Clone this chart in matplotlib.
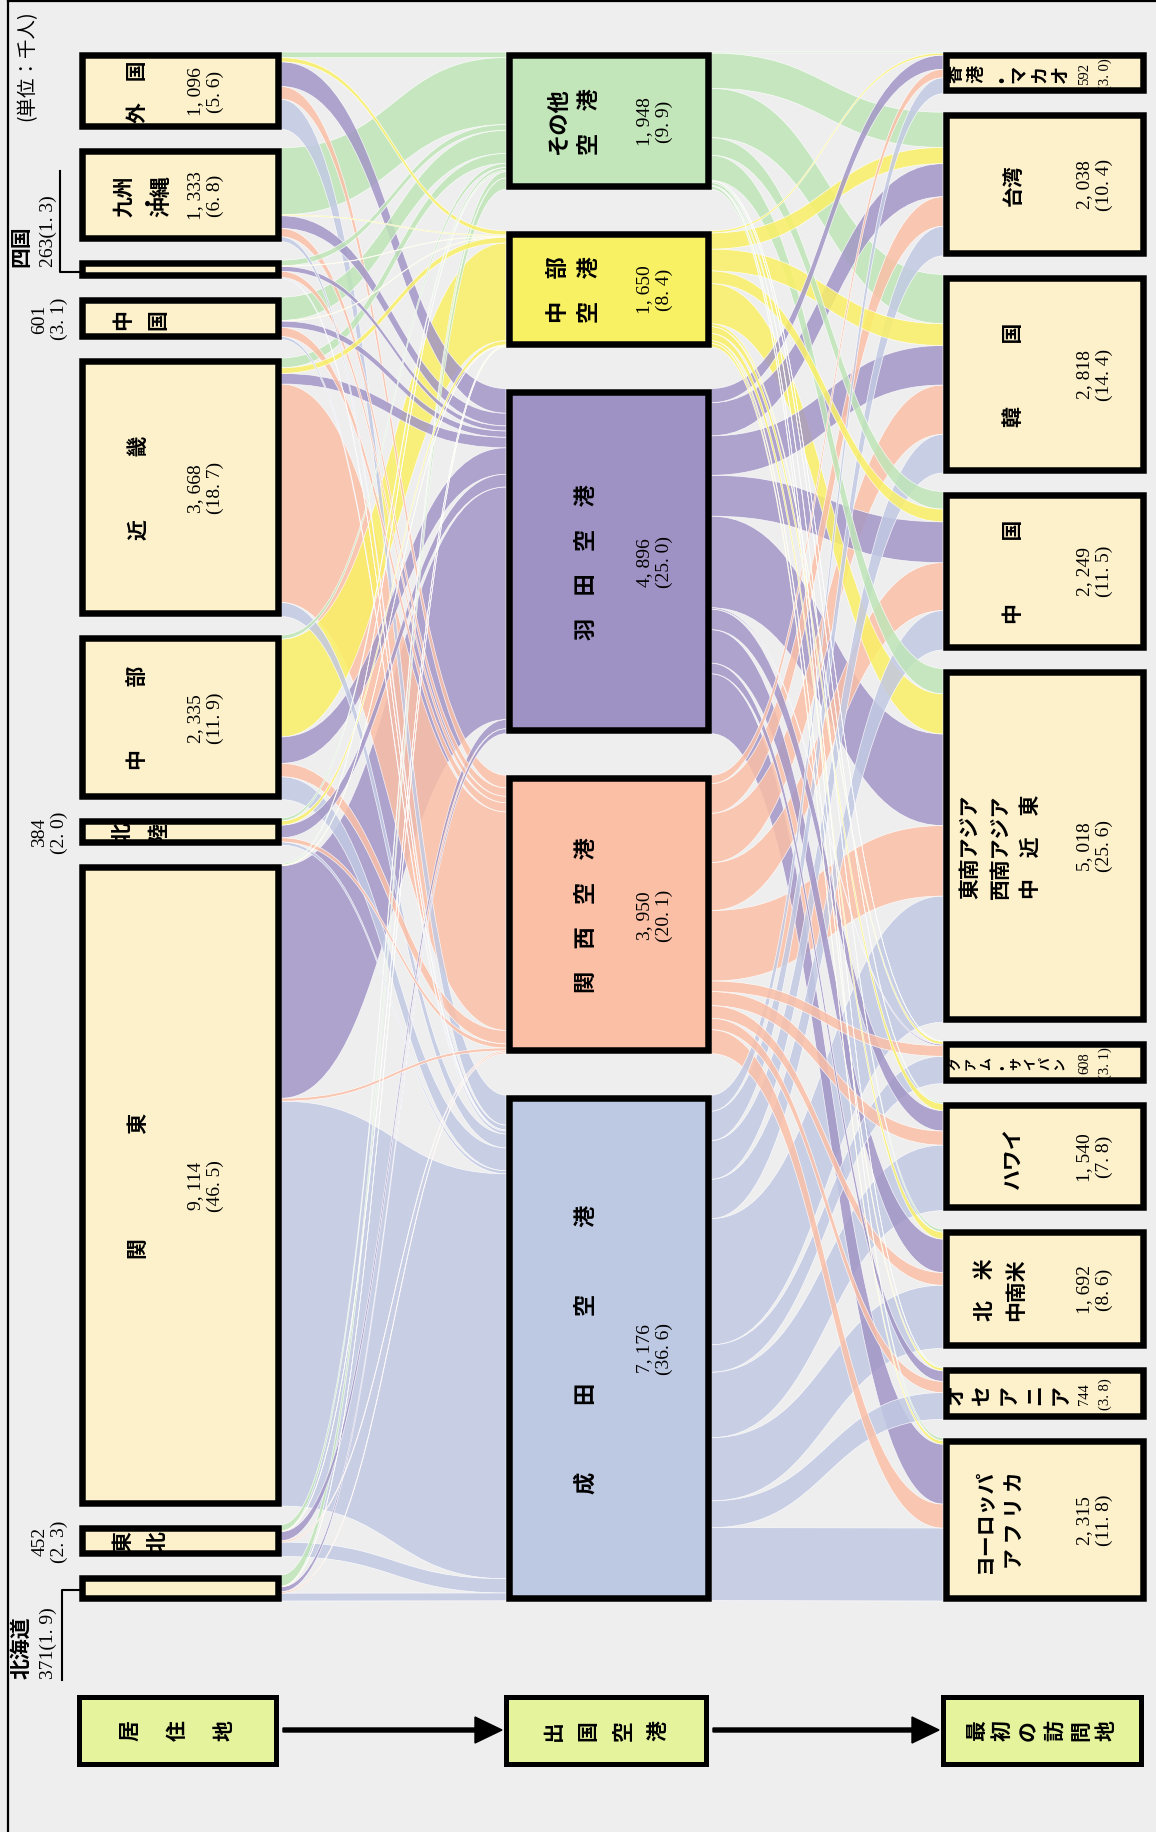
import matplotlib.pyplot as plt
from matplotlib.patches import Rectangle, PathPatch, FancyArrow
from matplotlib.path import Path

plt.rcParams['font.family'] = ['Noto Sans CJK JP', 'DejaVu Sans']
NUM_FONT = ['Liberation Serif', 'Noto Sans CJK JP']

W, H = 1156, 1833

# ---------------- data (thousand persons) ----------------
residence = ['外国', '九州・沖縄', '四国', '中国', '近畿', '中部', '北陸', '関東', '東北', '北海道']
residence_total = [1096, 1333, 263, 601, 3668, 2335, 384, 9114, 452, 371]
residence_share = [5.6, 6.8, 1.3, 3.1, 18.7, 11.9, 2.0, 46.5, 2.3, 1.9]

airport = ['その他空港', '中部空港', '羽田空港', '関西空港', '成田空港']
airport_total = [1948, 1650, 4896, 3950, 7176]
airport_share = [9.9, 8.4, 25.0, 20.1, 36.6]

destination = ['香港・マカオ', '台湾', '韓国', '中国', '東南アジア・西南アジア・中近東',
               'グアム・サイパン', 'ハワイ', '北米・中南米', 'オセアニア', 'ヨーロッパ・アフリカ']
destination_total = [592, 2038, 2818, 2249, 5018, 608, 1540, 1692, 744, 2315]
destination_share = [3.0, 10.4, 14.4, 11.5, 25.6, 3.1, 7.8, 8.6, 3.8, 11.8]

# residence -> departure airport (columns in airport order)
res_to_air = [
    [80, 60, 350, 180, 426],
    [950, 15, 180, 120, 68],
    [80, 8, 70, 90, 15],
    [330, 10, 90, 130, 41],
    [140, 80, 150, 3100, 198],
    [58, 1387, 376, 190, 324],
    [40, 60, 180, 60, 44],
    [20, 10, 3300, 40, 5744],
    [90, 10, 130, 20, 202],
    [160, 10, 70, 20, 111],
]

# departure airport -> first destination (columns in destination order)
air_to_dest = [
    [15, 500, 700, 250, 358, 10, 20, 40, 15, 40],
    [30, 230, 310, 180, 570, 40, 100, 100, 40, 50],
    [200, 470, 560, 580, 1300, 20, 290, 476, 150, 850],
    [120, 420, 700, 680, 1000, 150, 200, 180, 160, 340],
    [227, 418, 548, 559, 1790, 388, 930, 896, 379, 1035],
]

# ---------------- style / layout ----------------
BG = '#eeeeee'
CREAM = '#fdf1cb'
AIR_COLORS = ['#c2e5b9', '#f9f164', '#9e91c3', '#fbbfa6', '#bdc8e2']
FLOW_COLORS = ['#bfe5b8', '#faf066', '#a396c6', '#fabfa7', '#c2c9e3']
TOP, BOTTOM = 53, 1602
K = 0.0705  # px per thousand
COLS = {'res': (79, 281), 'air': (506, 711), 'dest': (943, 1146)}
BORDER = 6.5
LAB_FS = 15
NUM_FS = 14

res_labels = ['外　国', '九州\n・\n沖縄', '', '|中国', '近　　　畿', '中　　　部', '|北陸',
              '関　　　　　東', '|東北', '']
air_labels = ['その他\n空　港', '中　部\n空　港', '羽　田　空　港', '関　西　空　港',
              '成　　　田　　　空　　　港']
dest_labels = ['|香港・マカオ', '台湾', '韓　　　国', '中　　　国',
               '東南アジア\n西南アジア\n中　近　東', '|グアム・サイパン', 'ハワイ',
               '北　米\n中南米', '|オセアニア', 'ヨーロッパ\nア フ リ カ']


def stack(totals):
    h = [v * K for v in totals]
    gap = (BOTTOM - TOP - sum(h)) / (len(totals) - 1)
    out, y = [], TOP
    for hh in h:
        out.append((y, y + hh))
        y += hh + gap
    return out


def num_text(v, s, sep='\n'):
    return f"{v:,}".replace(',', ', ') + sep + '(' + f"{s:.1f}".replace('.', '. ') + ')'


def band(ax, x0, x1, a0, b0, a1, b1, color):
    xm = (x0 + x1) / 2
    verts = [(x0, a0), (xm, a0), (xm, a1), (x1, a1), (x1, b1),
             (xm, b1), (xm, b0), (x0, b0), (x0, a0)]
    codes = [Path.MOVETO, Path.CURVE4, Path.CURVE4, Path.CURVE4, Path.LINETO,
             Path.CURVE4, Path.CURVE4, Path.CURVE4, Path.CLOSEPOLY]
    ax.add_patch(PathPatch(Path(verts, codes), facecolor=color, alpha=0.85,
                           edgecolor=(1, 1, 1, 0.55), lw=0.5, zorder=2))


def flows(ax, matrix, src_pos, dst_pos, xs, xd, color_of):
    src_cur = [p[0] for p in src_pos]
    dst_cur = [p[0] for p in dst_pos]
    items = []
    for i, row in enumerate(matrix):
        for j, v in enumerate(row):
            h = v * K
            items.append((v, src_cur[i], src_cur[i] + h, dst_cur[j], dst_cur[j] + h, color_of(i, j)))
            src_cur[i] += h
            dst_cur[j] += h
    for v, a0, b0, a1, b1, c in sorted(items, key=lambda t: -t[0]):
        band(ax, xs, xd, a0, b0, a1, b1, c)


def box(ax, x0, x1, y0, y1, fill, lw=BORDER):
    ax.add_patch(Rectangle((x0 + lw / 2, y0 + lw / 2), x1 - x0 - lw, y1 - y0 - lw,
                           facecolor=fill, edgecolor='black', lw=lw * 0.72, zorder=5))


def tate(ax, x, y, s, step, size, bold=True):
    n = len(s)
    for i, ch in enumerate(s):
        ax.text(x + (i - (n - 1) / 2) * step, y, ch, rotation=90, ha='center', va='center',
                fontsize=size, fontweight='bold' if bold else 'normal', zorder=6)


fig = plt.figure(figsize=(W / 100, H / 100), dpi=100, facecolor=BG)
ax = fig.add_axes([0, 0, 1, 1])
ax.set_xlim(0, W)
ax.set_ylim(H, 0)
ax.axis('off')
ax.set_facecolor(BG)

res_pos = stack(residence_total)
air_pos = stack(airport_total)
dest_pos = stack(destination_total)

flows(ax, res_to_air, res_pos, air_pos, COLS['res'][1], COLS['air'][0],
      lambda i, j: FLOW_COLORS[j])
flows(ax, air_to_dest, air_pos, dest_pos, COLS['air'][1], COLS['dest'][0],
      lambda i, j: FLOW_COLORS[i])

# residence column
x0, x1 = COLS['res']
for i, (y0, y1) in enumerate(res_pos):
    box(ax, x0, x1, y0, y1, CREAM)
    yc = (y0 + y1) / 2
    lab = res_labels[i]
    if lab.startswith('|'):
        tate(ax, 140, yc, lab[1:], 35, LAB_FS)
        ax.text(50, yc, num_text(residence_total[i], residence_share[i]), rotation=90,
                ha='center', va='center', fontsize=NUM_FS, family=NUM_FONT, linespacing=1.2)
    elif lab:
        multi = '\n' in lab
        ax.text(142 if multi else 138, yc, lab, rotation=90, ha='center', va='center',
                fontsize=LAB_FS, fontweight='bold', linespacing=0.85 if multi else 1.2, zorder=6)
        ax.text(206, yc, num_text(residence_total[i], residence_share[i]), rotation=90,
                ha='center', va='center', fontsize=NUM_FS, family=NUM_FONT, linespacing=1.2, zorder=6)

# leader labels for 四国 and 北海道
for name, up in (('四国', True), ('北海道', False)):
    i = residence.index(name)
    y0, y1 = res_pos[i]
    yc = (y0 + y1) / 2
    if up:
        ax.plot([x0, 60, 60], [yc + 3, yc + 3, yc - 98], color='black', lw=1.5)
        yb = yc - 3
    else:
        ax.plot([x0, 62, 62], [yc + 2, yc + 2, yc + 92], color='black', lw=1.5)
        yb = yc + 90
    ax.text(21, yb, name, rotation=90, ha='center', va='bottom', fontsize=LAB_FS, fontweight='bold')
    ax.text(48, yb, num_text(residence_total[i], residence_share[i], sep=''), rotation=90,
            ha='center', va='bottom', fontsize=NUM_FS, family=NUM_FONT)

# airport column
x0, x1 = COLS['air']
for j, (y0, y1) in enumerate(air_pos):
    box(ax, x0, x1, y0, y1, AIR_COLORS[j])
    yc = (y0 + y1) / 2
    ax.text(574 if '\n' in air_labels[j] else 586, yc, air_labels[j], rotation=90,
            ha='center', va='center', fontsize=16, fontweight='bold', linespacing=1.4, zorder=6)
    ax.text(655, yc, num_text(airport_total[j], airport_share[j]), rotation=90,
            ha='center', va='center', fontsize=NUM_FS, family=NUM_FONT, linespacing=1.2, zorder=6)

# destination column
x0, x1 = COLS['dest']
for k, (y0, y1) in enumerate(dest_pos):
    box(ax, x0, x1, y0, y1, CREAM)
    yc = (y0 + y1) / 2
    lab = dest_labels[k]
    if lab.startswith('|'):
        s = lab[1:]
        step = 105 / (len(s) - 1)
        tate(ax, 1008, yc, s, step, min(15, step * 0.62))
        ax.text(1095, yc, num_text(destination_total[k], destination_share[k]), rotation=90,
                ha='center', va='center', fontsize=10.5, family=NUM_FONT, linespacing=1.7, zorder=6)
    else:
        ax.text(1013 if '\n' not in lab else 1000, yc, lab, rotation=90, ha='center',
                va='center', fontsize=LAB_FS, fontweight='bold', linespacing=1.55, zorder=6)
        ax.text(1095, yc, num_text(destination_total[k], destination_share[k]), rotation=90,
                ha='center', va='center', fontsize=NUM_FS, family=NUM_FONT, linespacing=1.2, zorder=6)

# unit note and frame
ax.text(27, 10, '(単位：千人)', rotation=90, ha='center', va='top', fontsize=14)
ax.plot([8, W], [2, 2], color='black', lw=1.6, zorder=10)
ax.plot([8, 8], [2, H], color='black', lw=1.6, zorder=10)

# bottom legend boxes and arrows
by0, by1 = BOTTOM + 93, BOTTOM + 165
byc = (by0 + by1) / 2
legend_boxes = [('res', '居住地', 47), ('air', '出国空港', 35), ('dest', '最初の訪問地', 26)]
for key, text, step in legend_boxes:
    bx0, bx1 = COLS[key]
    box(ax, bx0 - 3, bx1 - 3, by0, by1, '#e5f39d', lw=5)
    tate(ax, (bx0 + bx1) / 2 - 3, byc, text, step, LAB_FS)
for (ka, kb) in (('res', 'air'), ('air', 'dest')):
    xa = COLS[ka][1] + 2
    xb = COLS[kb][0] - 4
    ax.add_patch(FancyArrow(xa, byc, xb - xa, 0, width=4, head_width=26, head_length=27,
                            length_includes_head=True, color='black', zorder=6))

fig.savefig('out.png', dpi=100, facecolor=BG)
